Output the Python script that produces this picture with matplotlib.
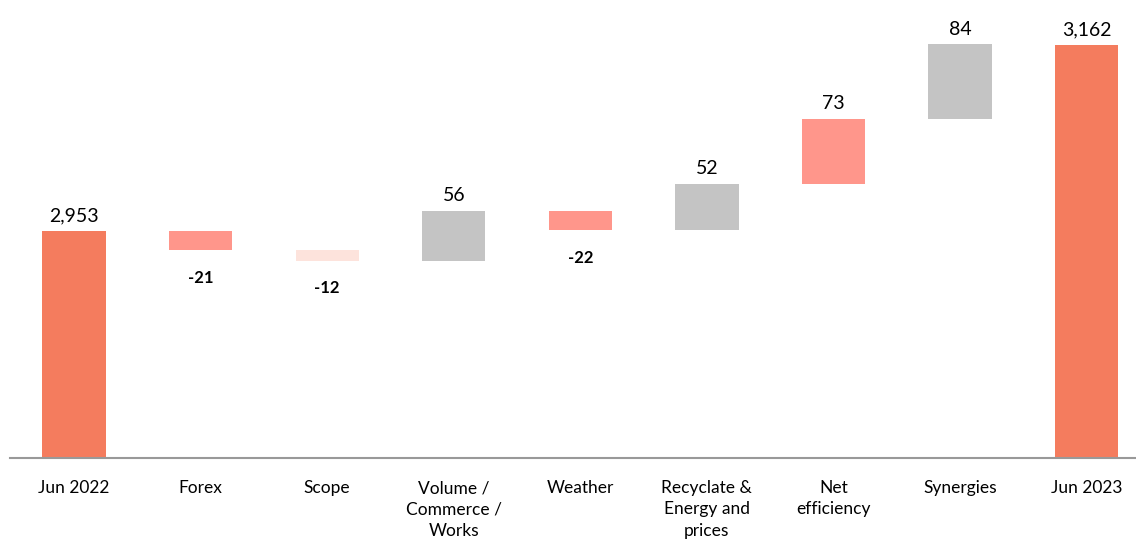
import matplotlib
matplotlib.use('Agg')
import matplotlib.pyplot as plt

plt.rcParams['font.family'] = ['Lato', 'DejaVu Sans']

categories = ['Jun 2022', 'Forex', 'Scope', 'Volume /\nCommerce /\nWorks', 'Weather',
              'Recyclate &\nEnergy and\nprices', 'Net\nefficiency', 'Synergies', 'Jun 2023']
changes = [2953, -21, -12, 56, -22, 52, 73, 84, 3162]
colors = ['#F47C5E', '#FF968B', '#FDE3DC', '#C4C4C4', '#FF968B',
          '#C4C4C4', '#FF968B', '#C4C4C4', '#F47C5E']

ymin, ymax = 2698, 3213

fig = plt.figure(figsize=(11.36, 5.4), dpi=100)
ax = fig.add_axes([10 / 1136, 82 / 540, 1126 / 1136, 458 / 540])

running = 0
for i, v in enumerate(changes):
    if i == 0 or i == len(changes) - 1:
        bottom, height = ymin, v - ymin
        top = v
        running = v
    else:
        bottom = running if v > 0 else running + v
        height = abs(v)
        top = running + v if v > 0 else running
        running += v
    ax.bar(i, height, bottom=bottom, width=0.5, color=colors[i])
    if v >= 0:
        ax.annotate(f'{v:,}', (i, top), xytext=(0, 5), textcoords='offset points',
                    ha='center', va='bottom', fontsize=14)
    else:
        ax.annotate(f'{v}', (i, bottom), xytext=(0, -20), textcoords='offset points',
                    ha='center', va='center', fontsize=12, fontweight='bold')

ax.set_xlim(-0.506, 8.39)
ax.set_ylim(ymin, ymax)
ax.set_xticks(range(len(categories)))
ax.set_xticklabels(categories, fontsize=12.5, linespacing=1.4)
ax.tick_params(axis='x', length=0, pad=16)
ax.set_yticks([])
for s in ['top', 'right', 'left']:
    ax.spines[s].set_visible(False)
ax.spines['bottom'].set_color('#999999')
ax.spines['bottom'].set_linewidth(1.5)

plt.savefig('out.png', dpi=100)
